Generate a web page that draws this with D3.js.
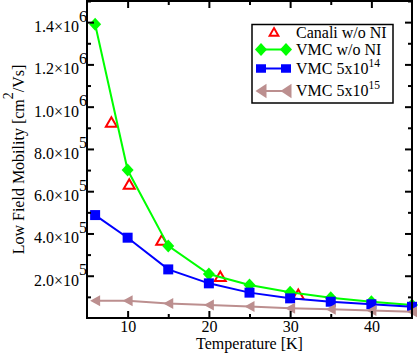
<!DOCTYPE html>
<html>
<head>
<meta charset="utf-8">
<script src="https://cdn.jsdelivr.net/npm/d3@7"></script>
<style>
  body { margin: 0; background: #fff; }
  svg { display: block; font-family: "Liberation Serif", "Times New Roman", serif; }
</style>
</head>
<body>
<div id="chart"></div>
<script>
// values
const temps = [6, 10, 15, 20, 25, 30, 35, 40, 45];
const vmcNoNI = [1.39e6, 7.0e5, 3.41e5, 2.08e5, 1.56e5, 1.22e5, 9.6e4, 7.7e4, 6.2e4];
const vmc14 = [4.87e5, 3.8e5, 2.3e5, 1.64e5, 1.2e5, 9.3e4, 7.7e4, 6.5e4, 5.3e4];
const vmc15 = [8.2e4, 8.2e4, 6.9e4, 6.2e4, 5.4e4, 4.6e4, 4.1e4, 3.5e4, 3.0e4];
const canaliT = [8.0, 10.2, 14.2, 21.4, 31.0];
const canaliMu = [9.24e5, 6.3e5, 3.66e5, 1.94e5, 1.09e5];

const xTicks = [10, 20, 30, 40];
const xMinor = [15, 25, 35];
const yTicks = [2e5, 4e5, 6e5, 8e5, 1e6, 1.2e6, 1.4e6];
const yMinor = [1e5, 3e5, 5e5, 7e5, 9e5, 1.1e6, 1.3e6, 1.5e6];
const yTickBase = ["2.0×10", "4.0×10", "6.0×10", "8.0×10", "1.0×10", "1.2×10", "1.4×10"];
const yTickExp = ["5", "5", "5", "5", "6", "6", "6"];
const legendText = ["Canali w/o NI", "VMC w/o NI", "VMC 5x10", "VMC 5x10"];
const legendExp = ["", "", "14", "15"];

const W = 418, H = 353;
const mLeft = 87, mRight = 412, mTop = 1, mBottom = 318;

const svg = d3.select("#chart").append("svg")
    .attr("width", W)
    .attr("height", H);

const x = d3.scaleLinear().domain([5, 45]).range([mLeft, mRight]);
const y = d3.scaleLinear().domain([0, 1.5e6]).range([mBottom, mTop]);

// marker shapes
const shapes = {
    triUp: "M0,-5.5L5.5,4L-5.5,4Z",
    diamond: "M0,-6.5L6,0L0,6.5L-6,0Z",
    square: "M-5,-5H5V5H-5Z",
    triLeft: "M-5,0L5,-5.5L5,5.5Z"
};

const series = [
    { name: "vmcNoNI", values: vmcNoNI, color: "#00ff00", shape: "diamond" },
    { name: "vmc14", values: vmc14, color: "#0000ff", shape: "square" },
    { name: "vmc15", values: vmc15, color: "#bc8f8f", shape: "triLeft" }
];

const line = d3.line()
    .x(d => x(d[0]))
    .y(d => y(d[1]));

// Canali points (hollow triangles)
const canali = canaliT.map((t, i) => [t, canaliMu[i]]);
svg.append("g").selectAll("path")
    .data(canali)
    .join("path")
    .attr("d", shapes.triUp)
    .attr("transform", d => `translate(${x(d[0])},${y(d[1])})`)
    .attr("fill", "#fff")
    .attr("stroke", "#ff0000")
    .attr("stroke-width", 2);

series.forEach(s => {
    const pts = temps.map((t, i) => [t, s.values[i]]);
    const g = svg.append("g").attr("class", s.name);
    g.append("path")
        .datum(pts)
        .attr("d", line)
        .attr("fill", "none")
        .attr("stroke", s.color)
        .attr("stroke-width", 2);
    g.selectAll(".mark")
        .data(pts)
        .join("path")
        .attr("class", "mark")
        .attr("d", shapes[s.shape])
        .attr("transform", d => `translate(${x(d[0])},${y(d[1])})`)
        .attr("fill", s.color);
});

// axes, ticks inward on all four sides
function styleAxis(g) {
    g.select(".domain").remove();
    g.selectAll(".tick line").attr("stroke", "#000").attr("stroke-width", 2);
    g.selectAll(".tick text").attr("font-size", 16).attr("fill", "#000")
        .attr("font-family", "Liberation Serif, serif");
}

svg.append("g")
    .attr("transform", `translate(0,${mBottom})`)
    .call(d3.axisBottom(x).tickValues(xTicks).tickSize(-7).tickPadding(3).tickFormat(d3.format("d")))
    .call(styleAxis);
svg.append("g")
    .attr("transform", `translate(0,${mBottom})`)
    .call(d3.axisBottom(x).tickValues(xMinor).tickSize(-4).tickFormat(""))
    .call(styleAxis);
svg.append("g")
    .attr("transform", `translate(0,${mTop})`)
    .call(d3.axisTop(x).tickValues(xTicks).tickSize(-7).tickFormat(""))
    .call(styleAxis);
svg.append("g")
    .attr("transform", `translate(0,${mTop})`)
    .call(d3.axisTop(x).tickValues(xMinor).tickSize(-4).tickFormat(""))
    .call(styleAxis);

svg.append("g")
    .attr("transform", `translate(${mLeft},0)`)
    .call(d3.axisLeft(y).tickValues(yTicks).tickSize(-7).tickPadding(0))
    .call(styleAxis)
    .call(g => g.selectAll(".tick text").each(function(d, i) {
        const t = d3.select(this).text(null).attr("dy", 9.5);
        t.append("tspan").text(yTickBase[i]);
        t.append("tspan").attr("dy", -10.5).attr("font-size", 16).text(yTickExp[i]);
    }));
svg.append("g")
    .attr("transform", `translate(${mLeft},0)`)
    .call(d3.axisLeft(y).tickValues(yMinor).tickSize(-4).tickFormat(""))
    .call(styleAxis);
svg.append("g")
    .attr("transform", `translate(${mRight},0)`)
    .call(d3.axisRight(y).tickValues(yTicks).tickSize(-7).tickFormat(""))
    .call(styleAxis);
svg.append("g")
    .attr("transform", `translate(${mRight},0)`)
    .call(d3.axisRight(y).tickValues(yMinor).tickSize(-4).tickFormat(""))
    .call(styleAxis);

// frame
svg.append("rect")
    .attr("x", mLeft).attr("y", mTop)
    .attr("width", mRight - mLeft).attr("height", mBottom - mTop)
    .attr("fill", "none")
    .attr("stroke", "#000")
    .attr("stroke-width", 2);

// axis titles
svg.append("text")
    .attr("x", (mLeft + mRight) / 2)
    .attr("y", 349)
    .attr("text-anchor", "middle")
    .attr("font-size", 16)
    .text("Temperature [K]");

const yTitle = svg.append("text")
    .attr("transform", `translate(24,${(mTop + mBottom) / 2}) rotate(-90)`)
    .attr("text-anchor", "middle")
    .attr("font-size", 16);
yTitle.append("tspan").text("Low Field Mobility [cm");
yTitle.append("tspan").attr("dy", -11.5).attr("font-size", 14).text("2");
yTitle.append("tspan").attr("dy", 11.5).text("/Vs]");

// legend
const legend = svg.append("g");
legend.append("rect")
    .attr("x", 252).attr("y", 24.5)
    .attr("width", 141).attr("height", 78.5)
    .attr("fill", "#fff")
    .attr("stroke", "#000")
    .attr("stroke-width", 1.5);

const legRows = [32.5, 49.5, 68.5, 91];
const legBase = [38, 55, 74, 96];
const lx0 = 261, lx1 = 286;

legend.append("path")
    .attr("d", shapes.triUp)
    .attr("transform", `translate(274,${legRows[0]}) scale(0.8)`)
    .attr("fill", "#fff")
    .attr("stroke", "#ff0000")
    .attr("stroke-width", 2.4);

series.forEach((s, i) => {
    const ly = legRows[i + 1];
    legend.append("line")
        .attr("x1", lx0).attr("x2", lx1)
        .attr("y1", ly).attr("y2", ly)
        .attr("stroke", s.color)
        .attr("stroke-width", 2);
    [lx0, lx1].forEach(px => {
        legend.append("path")
            .attr("d", shapes[s.shape])
            .attr("transform", `translate(${px},${ly})` + (s.shape === "triLeft" ? " scale(1.1,1.3)" : s.shape === "square" ? " scale(1,0.85)" : ""))
            .attr("fill", s.color);
    });
});

legendText.forEach((txt, i) => {
    const t = legend.append("text")
        .attr("x", 296)
        .attr("y", legBase[i])
        .attr("font-size", 16);
    t.append("tspan").text(txt);
    if (legendExp[i]) {
        t.append("tspan").attr("dy", -7).attr("font-size", 11.5).text(legendExp[i]);
    }
});
</script>
</body>
</html>
